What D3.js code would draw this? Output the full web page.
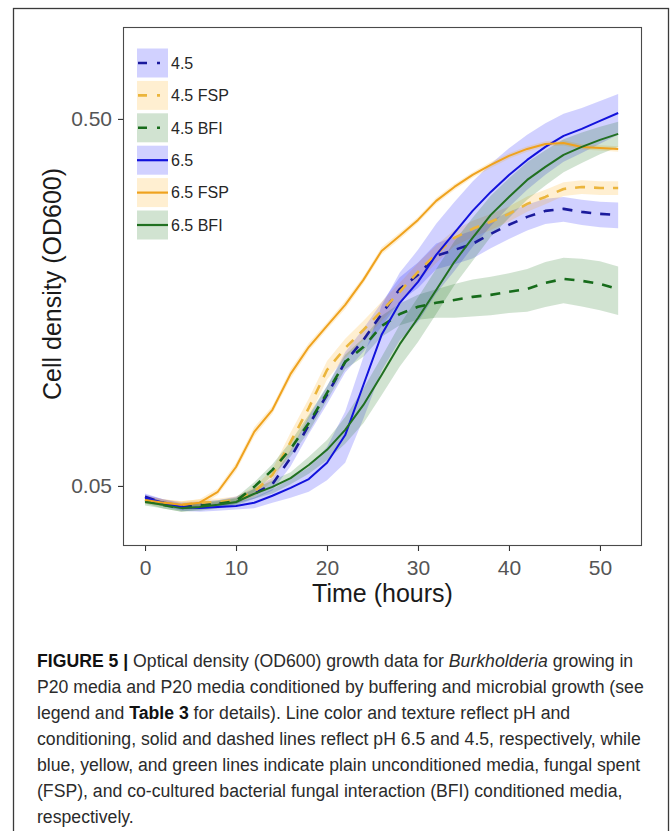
<!DOCTYPE html>
<meta charset="utf-8">
<style>
  body { margin: 0; background: #fff; }
  svg { display: block; font-family: "Liberation Sans", Arial, sans-serif; }
</style>
<body>
<div id="chart"></div>
<script src="https://cdn.jsdelivr.net/npm/d3@7"></script>
<script>
  // time points (hours)
  const hours = [0, 2, 4, 6, 8, 10, 12, 14, 16, 18, 20, 22, 24, 26, 28, 30, 32, 34, 36, 38, 40, 42, 44, 46, 48, 50, 52];

  // mean OD600 per condition
  const od45 = [0.0467, 0.0450, 0.0441, 0.0444, 0.0447, 0.0458, 0.0476, 0.0506, 0.0596, 0.0733, 0.0885, 0.1089, 0.1250, 0.1470, 0.1721, 0.1880, 0.2118, 0.2198, 0.2283, 0.2431, 0.2573, 0.2704, 0.2808, 0.2843, 0.2790, 0.2755, 0.2738];
  const od45FSP = [0.0461, 0.0450, 0.0444, 0.0450, 0.0452, 0.0458, 0.0482, 0.0535, 0.0659, 0.0816, 0.1035, 0.1188, 0.1330, 0.1498, 0.1690, 0.1915, 0.2145, 0.2371, 0.2509, 0.2622, 0.2755, 0.2934, 0.3065, 0.3222, 0.3263, 0.3242, 0.3242];
  const od45BFI = [0.0458, 0.0444, 0.0435, 0.0441, 0.0447, 0.0455, 0.0497, 0.0553, 0.0631, 0.0742, 0.0896, 0.1089, 0.1195, 0.1364, 0.1470, 0.1538, 0.1577, 0.1606, 0.1637, 0.1658, 0.1690, 0.1721, 0.1787, 0.1833, 0.1810, 0.1776, 0.1721];
  const od65 = [0.0464, 0.0450, 0.0438, 0.0435, 0.0438, 0.0441, 0.0450, 0.0470, 0.0494, 0.0522, 0.0578, 0.0688, 0.0942, 0.1290, 0.1577, 0.1799, 0.2131, 0.2447, 0.2808, 0.3163, 0.3519, 0.3866, 0.4194, 0.4494, 0.4695, 0.4938, 0.5190];
  const od65FSP = [0.0458, 0.0450, 0.0444, 0.0450, 0.0482, 0.0563, 0.0702, 0.0806, 0.1010, 0.1195, 0.1364, 0.1557, 0.1821, 0.2184, 0.2401, 0.2653, 0.2990, 0.3263, 0.3519, 0.3747, 0.3964, 0.4142, 0.4274, 0.4301, 0.4194, 0.4168, 0.4142];
  const od65BFI = [0.0452, 0.0444, 0.0435, 0.0438, 0.0444, 0.0452, 0.0476, 0.0497, 0.0525, 0.0570, 0.0627, 0.0711, 0.0831, 0.1003, 0.1217, 0.1434, 0.1710, 0.2040, 0.2371, 0.2738, 0.3065, 0.3410, 0.3700, 0.3990, 0.4194, 0.4383, 0.4551];

  // ribbon half widths (standard error)
  const se45 = [0.001, 0.001, 0.001, 0.001, 0.001, 0.001, 0.0015, 0.002, 0.003, 0.004, 0.005, 0.007, 0.009, 0.011, 0.013, 0.015, 0.017, 0.019, 0.020, 0.021, 0.022, 0.022, 0.022, 0.022, 0.022, 0.022, 0.022];
  const se45FSP = [0.001, 0.001, 0.001, 0.001, 0.001, 0.001, 0.0015, 0.002, 0.004, 0.005, 0.006, 0.007, 0.008, 0.009, 0.010, 0.011, 0.012, 0.012, 0.013, 0.013, 0.013, 0.014, 0.014, 0.014, 0.014, 0.014, 0.014];
  const se45BFI = [0.001, 0.001, 0.001, 0.001, 0.001, 0.001, 0.0015, 0.002, 0.003, 0.004, 0.004, 0.005, 0.007, 0.009, 0.010, 0.012, 0.014, 0.017, 0.019, 0.020, 0.021, 0.023, 0.025, 0.026, 0.027, 0.027, 0.026];
  const se65 = [0.001, 0.001, 0.001, 0.001, 0.001, 0.001, 0.0015, 0.002, 0.003, 0.004, 0.006, 0.011, 0.018, 0.026, 0.033, 0.040, 0.046, 0.052, 0.057, 0.061, 0.064, 0.066, 0.067, 0.067, 0.066, 0.066, 0.066];
  const se65FSP = [0.001, 0.001, 0.001, 0.001, 0.001, 0.0015, 0.002, 0.002, 0.003, 0.003, 0.003, 0.004, 0.004, 0.005, 0.005, 0.005, 0.006, 0.006, 0.006, 0.007, 0.007, 0.007, 0.007, 0.007, 0.007, 0.007, 0.007];
  const se65BFI = [0.001, 0.001, 0.001, 0.001, 0.001, 0.001, 0.0015, 0.002, 0.002, 0.003, 0.004, 0.006, 0.009, 0.012, 0.016, 0.020, 0.024, 0.028, 0.032, 0.035, 0.038, 0.040, 0.041, 0.041, 0.040, 0.038, 0.036];

  const groups = ['4.5', '4.5 FSP', '4.5 BFI', '6.5', '6.5 FSP', '6.5 BFI'];
  const means = [od45, od45FSP, od45BFI, od65, od65FSP, od65BFI];
  const errors = [se45, se45FSP, se45BFI, se65, se65FSP, se65BFI];
  const lineColors = ['#1a1a9c', '#ebb53c', '#176c1b', '#1212dc', '#efa21e', '#217021'];
  const fillColors = ['#0000ff', '#ffa500', '#006400', '#0000ff', '#ffa500', '#006400'];
  const isDashed = [true, true, true, false, false, false];

  const xTicks = [0, 10, 20, 30, 40, 50];
  const yTicks = [0.05, 0.5];

  const captionLines = [
    [['FIGURE 5 |', 'b'], [' Optical density (OD600) growth data for ', ''], ['Burkholderia', 'i'], [' growing in', '']],
    [['P20 media and P20 media conditioned by buffering and microbial growth (see', '']],
    [['legend and ', ''], ['Table 3', 'b'], [' for details). Line color and texture reflect pH and', '']],
    [['conditioning, solid and dashed lines reflect pH 6.5 and 4.5, respectively, while', '']],
    [['blue, yellow, and green lines indicate plain unconditioned media, fungal spent', '']],
    [['(FSP), and co-cultured bacterial fungal interaction (BFI) conditioned media,', '']],
    [['respectively.', '']]
  ];

  const series = groups.map((name, i) => ({
    name: name,
    color: lineColors[i],
    fill: fillColors[i],
    dashed: isDashed[i],
    values: hours.map((t, j) => ({ t: t, v: means[i][j], se: errors[i][j] }))
  }));

  const W = 672, H = 831;
  const panel = { left: 123, top: 27, right: 642, bottom: 546 };

  const svg = d3.select('#chart').append('svg')
      .attr('width', W)
      .attr('height', H);

  // outer figure frame
  svg.append('rect')
      .attr('x', 13.5).attr('y', 8.5)
      .attr('width', 655).attr('height', 840)
      .attr('fill', 'none')
      .attr('stroke', '#3a3a3a')
      .attr('stroke-width', 1.3);

  const x = d3.scaleLinear().domain([-2.42, 54.62]).range([panel.left, panel.right]);
  const y = d3.scaleLog().domain([0.0343, 0.89]).range([panel.bottom, panel.top]);

  svg.append('clipPath').attr('id', 'clip')
    .append('rect')
      .attr('x', panel.left).attr('y', panel.top)
      .attr('width', panel.right - panel.left)
      .attr('height', panel.bottom - panel.top);

  const plot = svg.append('g').attr('clip-path', 'url(#clip)');

  const area = d3.area()
      .x(d => x(d.t))
      .y0(d => y(d.v - d.se))
      .y1(d => y(d.v + d.se));

  const line = d3.line()
      .x(d => x(d.t))
      .y(d => y(d.v));

  plot.selectAll('path.ribbon').data(series).enter().append('path')
      .attr('class', 'ribbon')
      .attr('d', d => area(d.values))
      .attr('fill', d => d.fill)
      .attr('fill-opacity', 0.18);

  plot.selectAll('path.line').data(series).enter().append('path')
      .attr('class', 'line')
      .attr('d', d => line(d.values))
      .attr('fill', 'none')
      .attr('stroke', d => d.color)
      .attr('stroke-width', d => d.dashed ? 2.6 : 2)
      .attr('stroke-dasharray', d => d.dashed ? '10,9' : null)
      .attr('stroke-linejoin', 'round');

  // panel border
  svg.append('rect')
      .attr('x', panel.left + 0.5).attr('y', panel.top + 0.5)
      .attr('width', panel.right - panel.left - 1)
      .attr('height', panel.bottom - panel.top - 1)
      .attr('fill', 'none')
      .attr('stroke', '#4a4a4a')
      .attr('stroke-width', 1.1);

  // axes
  const xAxis = svg.append('g')
      .attr('transform', `translate(0,${panel.bottom})`)
      .call(d3.axisBottom(x).tickValues(xTicks).tickSize(5).tickPadding(9));
  const yAxis = svg.append('g')
      .attr('transform', `translate(${panel.left},0)`)
      .call(d3.axisLeft(y).tickValues(yTicks).tickFormat(d3.format('.2f')).tickSize(5).tickPadding(6));

  [xAxis, yAxis].forEach(g => {
    g.select('.domain').remove();
    g.selectAll('line').attr('stroke', '#333').attr('stroke-width', 1.1);
    g.selectAll('text')
        .attr('fill', '#555')
        .style('font-size', '21px')
        .style('font-family', '"Liberation Sans", Arial, sans-serif');
  });

  // axis titles
  svg.append('text')
      .attr('x', (panel.left + panel.right) / 2)
      .attr('y', 602)
      .attr('text-anchor', 'middle')
      .attr('fill', '#1a1a1a')
      .style('font-size', '25px')
      .text('Time (hours)');

  svg.append('text')
      .attr('transform', 'translate(61,284) rotate(-90)')
      .attr('text-anchor', 'middle')
      .attr('fill', '#1a1a1a')
      .style('font-size', '25px')
      .text('Cell density (OD600)');

  // legend
  const legend = svg.append('g');
  const keys = legend.selectAll('g').data(series).enter().append('g')
      .attr('transform', (d, i) => `translate(137,${63 + i * 32.4})`);

  keys.append('rect')
      .attr('x', 0).attr('y', -14.5)
      .attr('width', 31).attr('height', 29)
      .attr('fill', d => d.fill)
      .attr('fill-opacity', 0.18);

  keys.append('line')
      .attr('x1', d => d.dashed ? 1 : 0)
      .attr('x2', d => d.dashed ? 23 : 31)
      .attr('y1', 0).attr('y2', 0)
      .attr('stroke', d => d.color)
      .attr('stroke-width', d => d.dashed ? 2.6 : 2.2)
      .attr('stroke-dasharray', d => d.dashed ? '9,10' : null);

  keys.append('text')
      .attr('x', 34)
      .attr('y', 0)
      .attr('dy', '0.36em')
      .attr('fill', '#262626')
      .style('font-size', '16px')
      .text(d => d.name);

  // caption
  const caption = svg.append('g').attr('fill', '#2b2b2b');
  const capRows = caption.selectAll('text').data(captionLines).enter().append('text')
      .attr('x', 37)
      .attr('y', (d, i) => 667 + i * 26)
      .style('font-size', '16px');

  capRows.selectAll('tspan').data(d => d).enter().append('tspan')
      .attr('font-weight', d => d[1] === 'b' ? 'bold' : null)
      .attr('font-style', d => d[1] === 'i' ? 'italic' : null)
      .attr('fill', d => d[1] === 'b' ? '#111' : null)
      .text(d => d[0]);

  // fit caption width so the second row reaches the right margin
  const widest = capRows.nodes()[1].getComputedTextLength();
  capRows.style('font-size', (16 * 607 / widest).toFixed(2) + 'px');

</script>
